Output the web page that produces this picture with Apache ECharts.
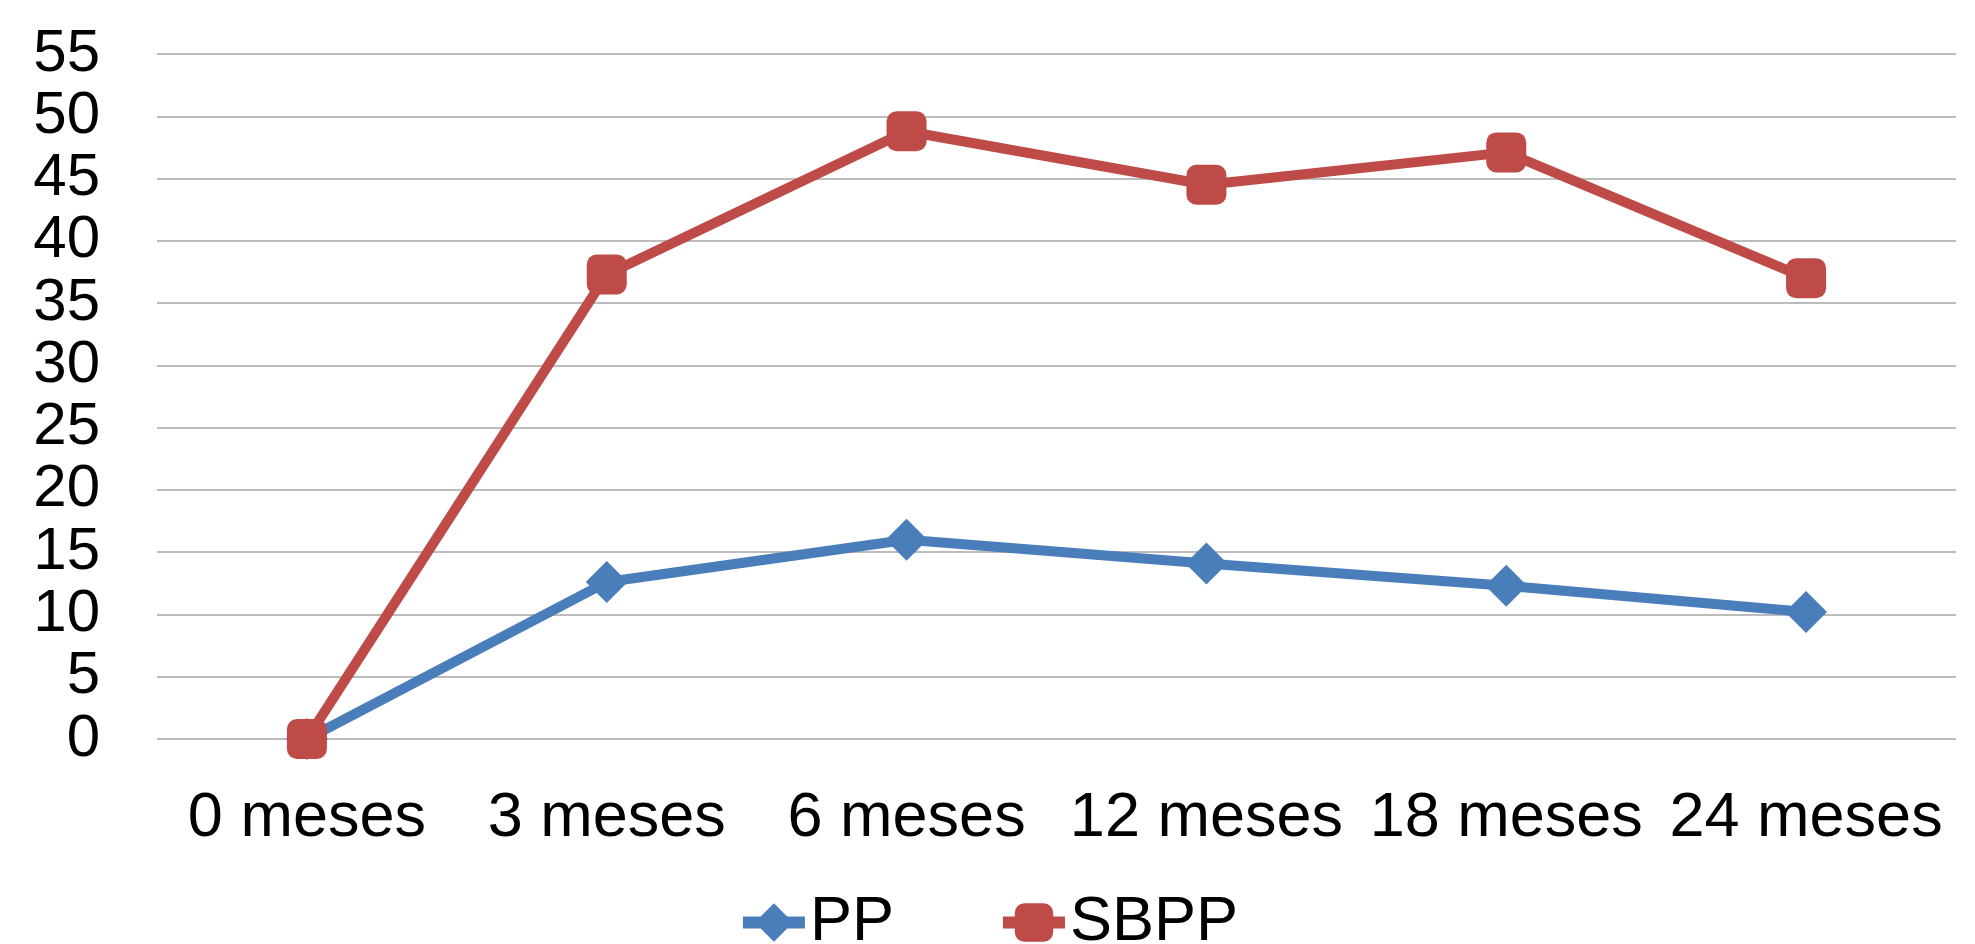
<!DOCTYPE html>
<html lang="es">
<head>
    <meta charset="UTF-8">
    <title>PP vs SBPP</title>
    <script type="text/javascript" src="https://cdn.jsdelivr.net/npm/echarts@6/dist/echarts.min.js"></script>
    <style>
        html, body { margin: 0; padding: 0; background: #fff; }
    </style>
</head>
<body>
  <div id="main" style="width: 1975px;height: 944px;"></div>
</body>
<script>
    // datos
    var categorias = ['0 meses', '3 meses', '6 meses', '12 meses', '18 meses', '24 meses'];
    var valoresPP = [0, 12.6, 16.0, 14.1, 12.3, 10.2];
    var valoresSBPP = [0, 37.3, 48.8, 44.5, 47.1, 37.0];
    var nombres = ['PP', 'SBPP'];

    var fuente = 'Liberation Sans';
    var myChart = echarts.init(document.getElementById('main'));

    var option = {
        animation: false,
        legend: {
            data: nombres,
            top: 886,
            left: 'center',
            itemWidth: 62,
            itemHeight: 48,
            itemGap: 103,
            lineStyle: { width: 12 },
            textStyle: { fontFamily: fuente, fontSize: 63, lineHeight: 63, color: '#000' }
        },
        grid: {
            left: 157,
            right: 19,
            top: 54,
            bottom: 205
        },
        xAxis: {
            type: 'category',
            data: categorias,
            boundaryGap: true,
            axisLine: { show: false },
            axisTick: { show: false },
            axisLabel: {
                interval: 0,
                hideOverlap: false,
                margin: 48,
                fontFamily: fuente,
                fontSize: 63,
                color: '#000'
            }
        },
        yAxis: {
            type: 'value',
            min: 0,
            max: 55,
            interval: 5,
            axisLine: { show: false },
            axisTick: { show: false },
            axisLabel: {
                showMinLabel: true,
                showMaxLabel: true,
                hideOverlap: false,
                margin: 57,
                fontFamily: fuente,
                fontSize: 60,
                color: '#000'
            },
            splitLine: { lineStyle: { color: '#a6a6a6', width: 1.5 } }
        },
        series: [{
            name: 'PP',
            type: 'line',
            data: valoresPP,
            symbol: 'diamond',
            symbolSize: [42, 42],
            color: '#4a7ebb',
            lineStyle: { width: 10, color: '#4a7ebb' },
            itemStyle: { color: '#4a7ebb' }
        }, {
            name: 'SBPP',
            type: 'line',
            data: valoresSBPP,
            symbol: 'roundRect',
            symbolSize: 40,
            color: '#be4b48',
            lineStyle: { width: 10, color: '#be4b48' },
            itemStyle: { color: '#be4b48' }
        }]
    };

    myChart.setOption(option);
</script>
</html>
